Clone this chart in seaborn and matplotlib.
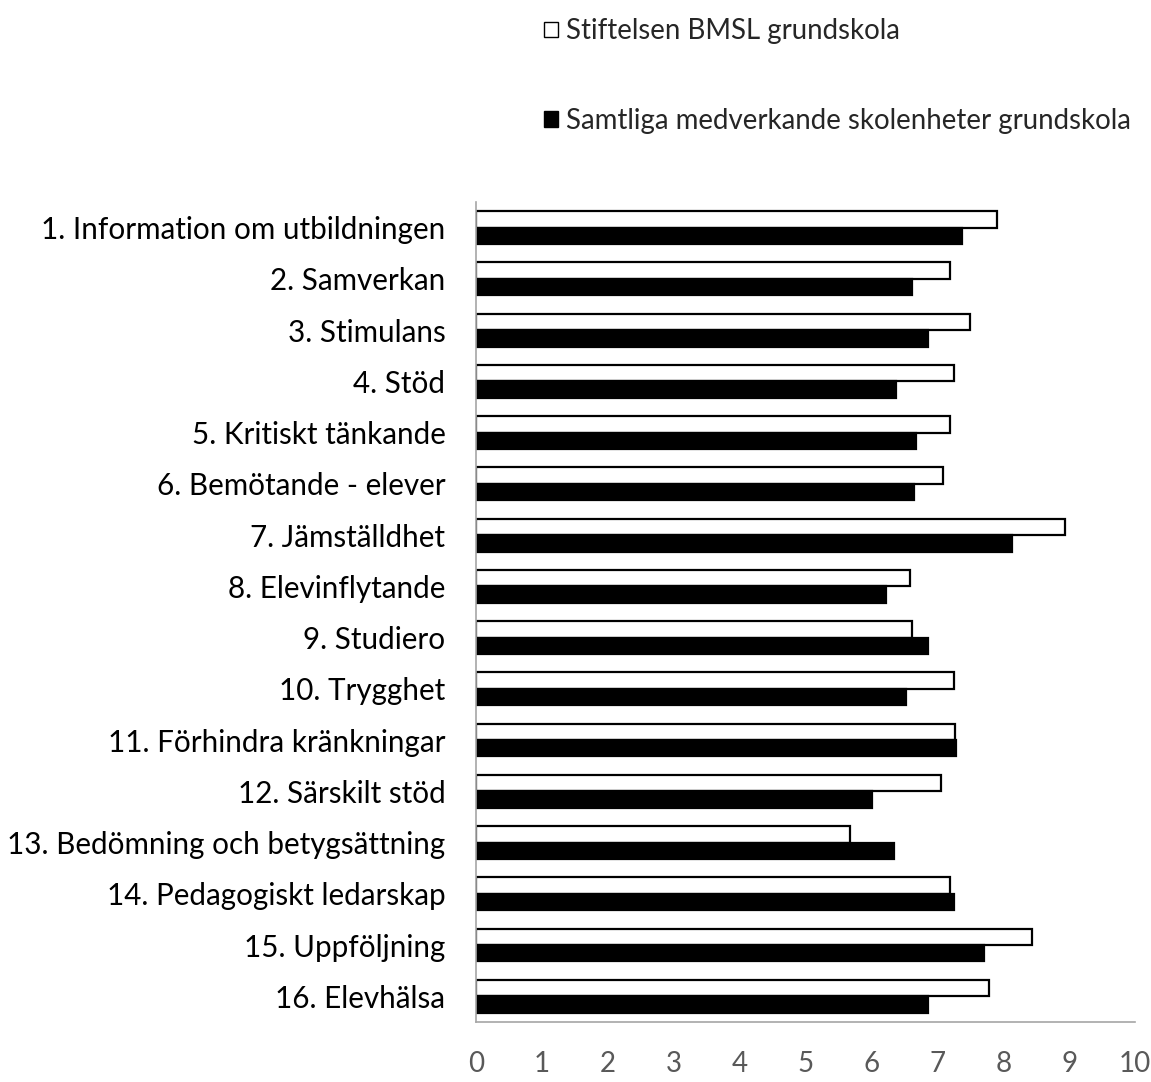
import matplotlib
matplotlib.use("Agg")
import matplotlib.pyplot as plt
import seaborn as sns
import pandas as pd
from matplotlib.ticker import FixedLocator

categories = [
    "1. Information om utbildningen",
    "2. Samverkan",
    "3. Stimulans",
    "4. Stöd",
    "5. Kritiskt tänkande",
    "6. Bemötande - elever",
    "7. Jämställdhet",
    "8. Elevinflytande",
    "9. Studiero",
    "10. Trygghet",
    "11. Förhindra kränkningar",
    "12. Särskilt stöd",
    "13. Bedömning och betygsättning",
    "14. Pedagogiskt ledarskap",
    "15. Uppföljning",
    "16. Elevhälsa",
]
series_names = ["Stiftelsen BMSL grundskola", "Samtliga medverkande skolenheter grundskola"]
stiftelsen = [7.91, 7.19, 7.49, 7.25, 7.19, 7.09, 8.94, 6.58, 6.61, 7.25, 7.27, 7.06, 5.67, 7.19, 8.43, 7.79]
samtliga = [7.38, 6.62, 6.86, 6.37, 6.67, 6.65, 8.13, 6.22, 6.86, 6.53, 7.28, 6.01, 6.34, 7.25, 7.71, 6.86]
x_ticks = list(range(0, 11))

df = pd.DataFrame({
    "category": categories * 2,
    "series": [series_names[0]] * len(categories) + [series_names[1]] * len(categories),
    "value": stiftelsen + samtliga,
})

sns.set_style("white")
plt.rcParams["font.family"] = ["Lato", "DejaVu Sans"]

fig = plt.figure(figsize=(11.51, 10.82), dpi=100)
ax = fig.add_axes([0.4136, 0.0555, 0.5725, 0.7578])

sns.barplot(data=df, y="category", x="value", hue="series", order=categories,
            hue_order=series_names, palette=["white", "black"], orient="h",
            width=0.64, gap=0, edgecolor="black", linewidth=1.6, saturation=1,
            ax=ax, legend=True)

ax.set_xlim(0, 10)
ax.set_ylim(len(categories) - 0.5, -0.5)
ax.set_xticks(x_ticks)
ax.set_xticklabels([str(t) for t in x_ticks], fontsize=20, color="#595959")
ax.set_xlabel("")
ax.set_ylabel("")
ax.tick_params(axis="x", which="major", length=8, width=1, color="#a6a6a6", pad=13, direction="out")
ax.tick_params(axis="y", which="major", length=0, pad=22, labelsize=21.3, labelcolor="black")
ax.yaxis.set_minor_locator(FixedLocator([i - 0.5 for i in range(len(categories) + 1)]))
ax.tick_params(axis="y", which="minor", length=8, width=1, color="#a6a6a6", direction="out")

for s in ["top", "right"]:
    ax.spines[s].set_visible(False)
for s in ["left", "bottom"]:
    ax.spines[s].set_color("#a6a6a6")
    ax.spines[s].set_linewidth(1.2)

handles, labels = ax.get_legend_handles_labels()
ax.legend_.remove()
for h in handles:
    h.set_edgecolor("black")
    h.set_linewidth(1.0)
fig.legend(handles, labels, loc="upper left", bbox_to_anchor=(0.451, 1.006),
           bbox_transform=fig.transFigure, frameon=False, fontsize=19.9,
           handlelength=0.5, handleheight=0.5, handletextpad=0.3, labelspacing=2.3)

fig.savefig("out.png", dpi=100)
